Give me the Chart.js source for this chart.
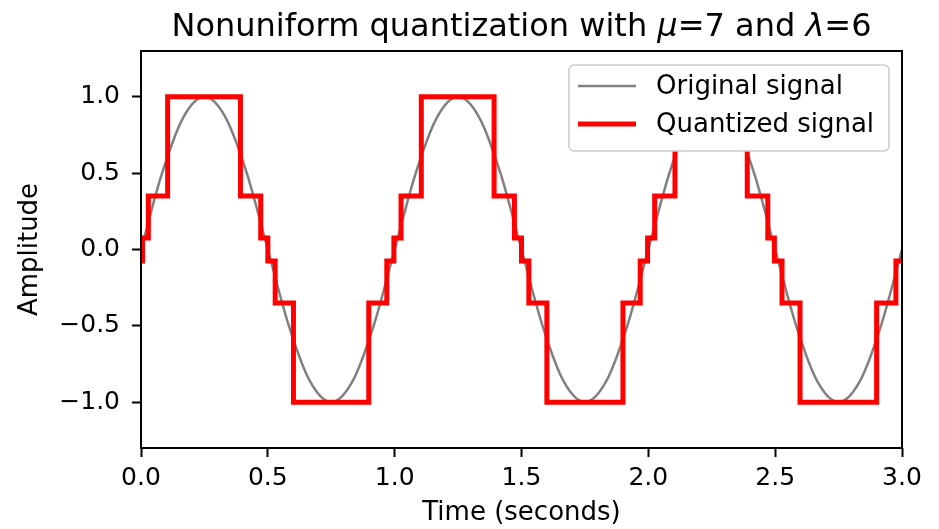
<!DOCTYPE html>
<html>
<head>
<meta charset="utf-8">
<script src="https://cdn.jsdelivr.net/npm/chart.js@4.4.1/dist/chart.umd.min.js"></script>
<style>
  html, body { margin: 0; padding: 0; background: #fff; }
  #wrap { width: 939px; height: 529px; }
</style>
</head>
<body>
<div id="wrap"><canvas id="chart" width="939" height="529"></canvas></div>
<script>
// original signal, every 1/12 s
const sineTimes = [0, 0.083, 0.167, 0.25, 0.333, 0.417, 0.5, 0.583, 0.667, 0.75, 0.833, 0.917,
  1, 1.083, 1.167, 1.25, 1.333, 1.417, 1.5, 1.583, 1.667, 1.75, 1.833, 1.917,
  2, 2.083, 2.167, 2.25, 2.333, 2.417, 2.5, 2.583, 2.667, 2.75, 2.833, 2.917, 3];
const sineValues = [0, 0.5, 0.866, 1, 0.866, 0.5, 0, -0.5, -0.866, -1, -0.866, -0.5,
  0, 0.5, 0.866, 1, 0.866, 0.5, 0, -0.5, -0.866, -1, -0.866, -0.5,
  0, 0.5, 0.866, 1, 0.866, 0.5, 0, -0.5, -0.866, -1, -0.866, -0.5, 0];

// quantized signal: time where each level starts, and the level held after it
const quantTimes = [0, 0.006, 0.029, 0.105, 0.392, 0.472, 0.5, 0.529, 0.601, 0.898, 0.969, 0.997,
  1.025, 1.105, 1.392, 1.472, 1.5, 1.529, 1.6, 1.9, 1.968, 1.997,
  2.025, 2.105, 2.39, 2.471, 2.497, 2.527, 2.598, 2.9, 2.976, 3.0];
const quantLevels = [-0.075, 0.075, 0.35, 1, 0.35, 0.075, -0.075, -0.35, -1, -0.35, -0.075, 0.075,
  0.35, 1, 0.35, 0.075, -0.075, -0.35, -1, -0.35, -0.075, 0.075,
  0.35, 1, 0.35, 0.075, -0.075, -0.35, -1, -0.35, -0.075, -0.075];

const xTicks = [0, 0.5, 1, 1.5, 2, 2.5, 3];
const yTicks = [-1, -0.5, 0, 0.5, 1];

const FONT = "'DejaVu Sans', sans-serif";
const fmt = v => (v < 0 ? '\u2212' : '') + Math.abs(v).toFixed(1);

// title with italic mu / lambda, centred over the plot
const titlePlugin = {
  id: 'mplTitle',
  afterDraw(chart) {
    const ctx = chart.ctx;
    const parts = [
      ['Nonuniform quantization with ', 'normal'],
      ['\u03bc', 'italic'],
      ['=7 and ', 'normal'],
      ['\u03bb', 'italic'],
      ['=6', 'normal']
    ];
    ctx.save();
    ctx.fillStyle = '#000';
    ctx.textBaseline = 'alphabetic';
    let total = 0;
    parts.forEach(p => { ctx.font = p[1] + ' 32px ' + FONT; total += ctx.measureText(p[0]).width; });
    const area = chart.chartArea;
    let x = (area.left + area.right) / 2 - total / 2;
    parts.forEach(p => {
      ctx.font = p[1] + ' 32px ' + FONT;
      ctx.fillText(p[0], x, 36);
      x += ctx.measureText(p[0]).width;
    });
    ctx.restore();
  }
};

// box around the axes plus the legend in the top right corner
const framePlugin = {
  id: 'frameLegend',
  afterDraw(chart) {
    const ctx = chart.ctx;
    const a = chart.chartArea;
    ctx.save();
    ctx.strokeStyle = '#000';
    ctx.lineWidth = 2;
    ctx.strokeRect(a.left, a.top, a.right - a.left, a.bottom - a.top);

    const bx = 569, by = 65, bw = 320, bh = 86;
    ctx.beginPath();
    ctx.roundRect(bx, by, bw, bh, 5);
    ctx.fillStyle = '#ffffff';
    ctx.fill();
    ctx.strokeStyle = '#cccccc';
    ctx.lineWidth = 1.5;
    ctx.stroke();

    const rows = [86, 124];
    chart.data.datasets.slice().reverse().forEach((ds, i) => {
      ctx.beginPath();
      ctx.strokeStyle = ds.borderColor;
      ctx.lineWidth = ds.borderWidth;
      ctx.moveTo(578, rows[i]);
      ctx.lineTo(636, rows[i]);
      ctx.stroke();
      ctx.fillStyle = '#000';
      ctx.font = '26px ' + FONT;
      ctx.textBaseline = 'middle';
      ctx.fillText(ds.label, 656, rows[i] + 1);
    });
    ctx.restore();
  }
};

new Chart(document.getElementById('chart'), {
  type: 'line',
  data: {
    datasets: [
      {
        label: 'Quantized signal',
        data: quantTimes.map((t, i) => ({ x: t, y: quantLevels[i] })),
        borderColor: '#ff0000',
        borderWidth: 5,
        stepped: 'before',
        pointRadius: 0,
        fill: false,
        order: 1
      },
      {
        label: 'Original signal',
        data: sineTimes.map((t, i) => ({ x: t, y: sineValues[i] })),
        borderColor: '#808080',
        borderWidth: 2.5,
        cubicInterpolationMode: 'monotone',
        pointRadius: 0,
        fill: false,
        order: 2
      }
    ]
  },
  options: {
    responsive: false,
    animation: false,
    devicePixelRatio: 1,
    layout: { padding: { top: 51, right: 37, bottom: 0, left: 0 } },
    plugins: {
      legend: { display: false },
      title: { display: false },
      tooltip: { enabled: false }
    },
    scales: {
      x: {
        type: 'linear',
        min: 0,
        max: 3,
        afterFit: s => { s.height = 81; },
        afterBuildTicks: s => { s.ticks = xTicks.map(v => ({ value: v })); },
        ticks: {
          color: '#000',
          font: { family: FONT, size: 25 },
          padding: 6,
          maxRotation: 0,
          callback: v => fmt(v)
        },
        grid: { drawOnChartArea: false, drawTicks: true, tickLength: 9, tickWidth: 2, tickColor: '#000' },
        border: { display: false },
        title: {
          display: true,
          text: 'Time (seconds)',
          color: '#000',
          font: { family: FONT, size: 26 },
          padding: { top: 0, bottom: 0 }
        }
      },
      y: {
        min: -1.3,
        max: 1.3,
        afterFit: s => { s.width = 141; },
        afterBuildTicks: s => { s.ticks = yTicks.map(v => ({ value: v })); },
        ticks: {
          color: '#000',
          font: { family: FONT, size: 25 },
          padding: 12,
          callback: v => fmt(v)
        },
        grid: { drawOnChartArea: false, drawTicks: true, tickLength: 9, tickWidth: 2, tickColor: '#000' },
        border: { display: false },
        title: {
          display: true,
          text: 'Amplitude',
          color: '#000',
          font: { family: FONT, size: 26 },
          padding: { top: 15, bottom: 0 }
        }
      }
    }
  },
  plugins: [titlePlugin, framePlugin]
});
</script>
</body>
</html>
